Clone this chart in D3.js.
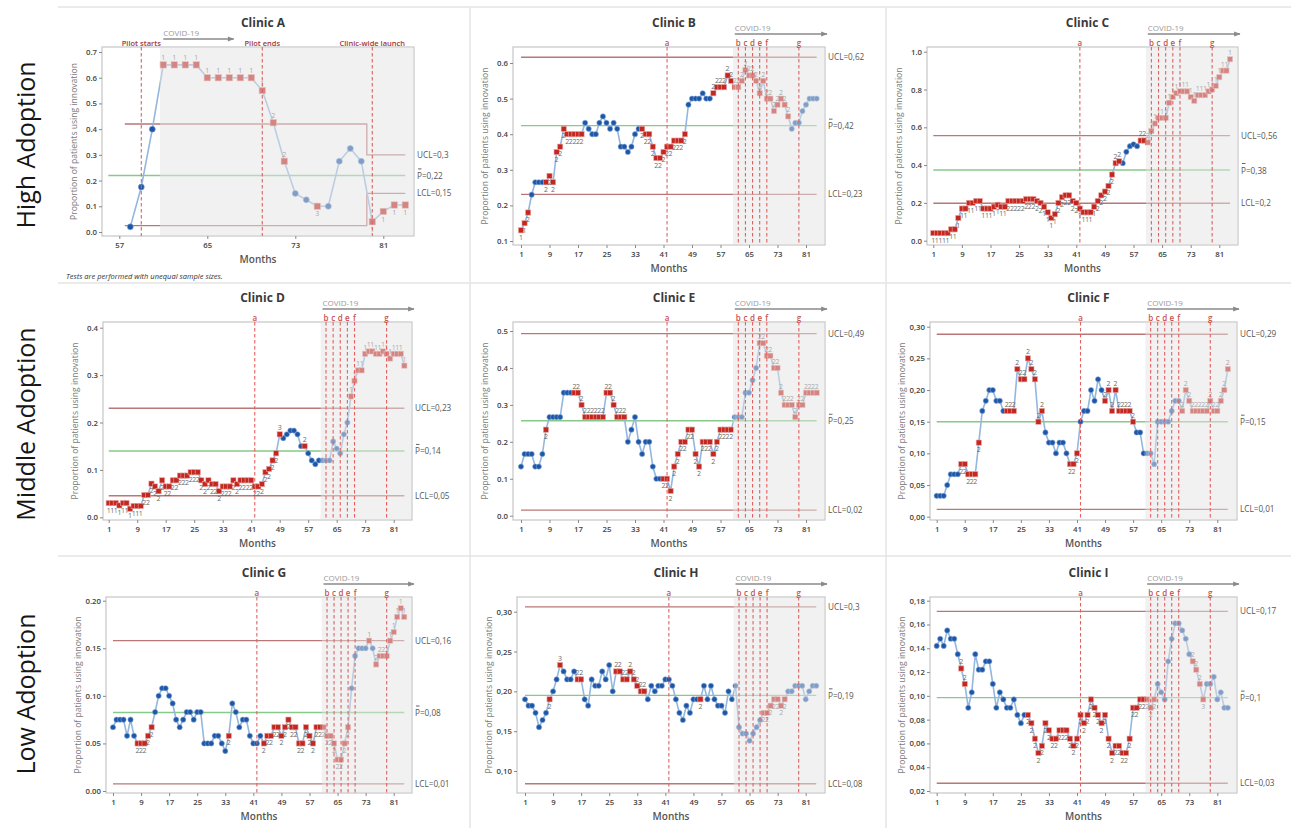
<!DOCTYPE html>
<html>
<head>
<meta charset="utf-8">
<script src="https://cdn.jsdelivr.net/npm/d3@7"></script>
<style>
  body { margin: 0; background: #fff; }
  svg { display: block; font-family: "Open Sans", "Noto Sans", sans-serif; }
</style>
</head>
<body>
<svg id="chart" width="1291" height="828"></svg>
<script>
// ---- data ----
const clinicNames = ["Clinic A", "Clinic B", "Clinic C", "Clinic D", "Clinic E", "Clinic F", "Clinic G", "Clinic H", "Clinic I"];
const rowLabels = ["High Adoption", "Middle Adoption", "Low Adoption"];

const xTicksA = [57, 65, 73, 81];
const xTicks = [1, 9, 17, 25, 33, 41, 49, 57, 65, 73, 81];
const eventMonths = [42, 62, 64, 66, 68, 70, 79];
const eventLetters = ["a", "b", "c", "d", "e", "f", "g"];
const eventMonthsA = [59, 70, 80];
const eventLabelsA = ["Pilot starts", "Pilot ends", "Clinic-wide launch"];

// Clinic A starts at month 58
const valuesA = [0.02, 0.175, 0.40, 0.65, 0.65, 0.65, 0.65, 0.60, 0.60, 0.60, 0.60, 0.60, 0.55,
  0.425, 0.275, 0.15, 0.125, 0.10, 0.10, 0.275, 0.325, 0.275, 0.04, 0.08, 0.105, 0.105];
const valuesB = [0.13, 0.15, 0.18, 0.23, 0.265, 0.265, 0.265, 0.265, 0.283, 0.265,
  0.35, 0.365, 0.415, 0.40, 0.40, 0.40, 0.40, 0.40, 0.432, 0.415,
  0.40, 0.40, 0.432, 0.45, 0.432, 0.415, 0.432, 0.415, 0.365, 0.365,
  0.35, 0.365, 0.40, 0.415, 0.415, 0.40, 0.40, 0.365, 0.333, 0.333,
  0.35, 0.365, 0.365, 0.382, 0.382, 0.382, 0.40, 0.483, 0.50, 0.50,
  0.50, 0.515, 0.50, 0.50, 0.515, 0.532, 0.532, 0.532, 0.565, 0.55,
  0.532, 0.532, 0.55, 0.58, 0.565, 0.565, 0.55, 0.515, 0.55, 0.50,
  0.50, 0.465, 0.483, 0.50, 0.483, 0.45, 0.415, 0.432, 0.432, 0.465,
  0.483, 0.50, 0.50, 0.50];
const valuesC = [0.04, 0.04, 0.04, 0.04, 0.04, 0.06, 0.06, 0.12, 0.17, 0.17,
  0.20, 0.20, 0.21, 0.21, 0.17, 0.17, 0.17, 0.18, 0.19, 0.18,
  0.18, 0.21, 0.21, 0.21, 0.21, 0.21, 0.22, 0.22, 0.22, 0.21,
  0.20, 0.18, 0.15, 0.12, 0.14, 0.20, 0.23, 0.24, 0.24, 0.21,
  0.20, 0.17, 0.15, 0.15, 0.15, 0.18, 0.21, 0.24, 0.26, 0.29,
  0.35, 0.41, 0.42, 0.41, 0.47, 0.50, 0.51, 0.50, 0.53, 0.53,
  0.52, 0.58, 0.62, 0.65, 0.65, 0.65, 0.73, 0.76, 0.78, 0.79,
  0.79, 0.79, 0.76, 0.74, 0.77, 0.77, 0.77, 0.79, 0.80, 0.82,
  0.865, 0.90, 0.90, 0.96];
const valuesD = [0.03, 0.03, 0.03, 0.025, 0.03, 0.03, 0.018, 0.024, 0.024, 0.024,
  0.047, 0.047, 0.071, 0.065, 0.055, 0.078, 0.065, 0.065, 0.078, 0.078,
  0.088, 0.088, 0.088, 0.095, 0.095, 0.095, 0.078, 0.07, 0.078, 0.07,
  0.07, 0.055, 0.065, 0.065, 0.065, 0.078, 0.07, 0.078, 0.078, 0.078,
  0.078, 0.065, 0.065, 0.07, 0.095, 0.102, 0.12, 0.135, 0.175, 0.167,
  0.175, 0.183, 0.183, 0.175, 0.15, 0.15, 0.135, 0.12, 0.112, 0.12,
  0.12, 0.12, 0.12, 0.16, 0.145, 0.135, 0.175, 0.20, 0.255, 0.288,
  0.31, 0.31, 0.345, 0.35, 0.35, 0.345, 0.345, 0.35, 0.345, 0.335,
  0.345, 0.345, 0.345, 0.32];
const valuesE = [0.133, 0.167, 0.167, 0.167, 0.133, 0.133, 0.167, 0.233, 0.267, 0.267,
  0.267, 0.267, 0.333, 0.333, 0.333, 0.333, 0.333, 0.30, 0.267, 0.267,
  0.267, 0.267, 0.267, 0.267, 0.333, 0.333, 0.30, 0.267, 0.267, 0.267,
  0.20, 0.233, 0.267, 0.20, 0.167, 0.20, 0.20, 0.133, 0.10, 0.10,
  0.10, 0.10, 0.067, 0.133, 0.167, 0.20, 0.20, 0.233, 0.233, 0.167,
  0.133, 0.20, 0.20, 0.20, 0.167, 0.20, 0.233, 0.233, 0.233, 0.233,
  0.267, 0.267, 0.267, 0.333, 0.333, 0.367, 0.40, 0.467, 0.467, 0.433,
  0.433, 0.40, 0.40, 0.333, 0.30, 0.30, 0.30, 0.267, 0.30, 0.30,
  0.333, 0.333, 0.333, 0.333];
const valuesF = [0.033, 0.033, 0.033, 0.05, 0.067, 0.067, 0.067, 0.083, 0.083, 0.067,
  0.067, 0.067, 0.117, 0.167, 0.183, 0.20, 0.20, 0.183, 0.183, 0.167,
  0.167, 0.167, 0.167, 0.233, 0.217, 0.217, 0.25, 0.233, 0.217, 0.15,
  0.167, 0.133, 0.117, 0.117, 0.10, 0.117, 0.117, 0.10, 0.083, 0.083,
  0.10, 0.15, 0.167, 0.167, 0.20, 0.183, 0.217, 0.20, 0.183, 0.20,
  0.167, 0.20, 0.167, 0.167, 0.167, 0.167, 0.15, 0.133, 0.133, 0.10,
  0.10, 0.10, 0.083, 0.15, 0.15, 0.15, 0.15, 0.167, 0.183, 0.183,
  0.167, 0.20, 0.183, 0.167, 0.167, 0.167, 0.167, 0.167, 0.183, 0.167,
  0.167, 0.183, 0.20, 0.233];
const valuesG = [0.067, 0.075, 0.075, 0.075, 0.058, 0.075, 0.058, 0.05, 0.05, 0.05,
  0.058, 0.067, 0.083, 0.10, 0.108, 0.108, 0.10, 0.092, 0.075, 0.067,
  0.075, 0.083, 0.083, 0.075, 0.083, 0.083, 0.05, 0.05, 0.05, 0.058,
  0.058, 0.05, 0.042, 0.058, 0.092, 0.083, 0.067, 0.075, 0.075, 0.058,
  0.05, 0.05, 0.058, 0.05, 0.058, 0.058, 0.067, 0.067, 0.058, 0.067,
  0.075, 0.067, 0.067, 0.05, 0.05, 0.067, 0.058, 0.05, 0.067, 0.067,
  0.067, 0.058, 0.058, 0.05, 0.033, 0.033, 0.05, 0.067, 0.108, 0.142,
  0.15, 0.15, 0.15, 0.158, 0.15, 0.133, 0.142, 0.142, 0.142, 0.158,
  0.167, 0.183, 0.192, 0.183];
const valuesH = [0.19, 0.182, 0.182, 0.173, 0.155, 0.164, 0.173, 0.19, 0.20, 0.215,
  0.233, 0.225, 0.215, 0.215, 0.225, 0.215, 0.215, 0.19, 0.182, 0.215,
  0.207, 0.207, 0.225, 0.215, 0.233, 0.20, 0.225, 0.225, 0.215, 0.215,
  0.225, 0.215, 0.207, 0.20, 0.20, 0.19, 0.207, 0.20, 0.207, 0.207,
  0.215, 0.215, 0.207, 0.19, 0.173, 0.164, 0.182, 0.173, 0.19, 0.19,
  0.19, 0.207, 0.19, 0.207, 0.19, 0.182, 0.182, 0.173, 0.20, 0.19,
  0.207, 0.155, 0.147, 0.147, 0.138, 0.147, 0.155, 0.164, 0.173, 0.173,
  0.182, 0.19, 0.19, 0.182, 0.19, 0.20, 0.20, 0.207, 0.207, 0.207,
  0.19, 0.20, 0.207, 0.207];
const valuesI = [0.142, 0.148, 0.142, 0.155, 0.148, 0.148, 0.135, 0.123, 0.11, 0.09,
  0.103, 0.135, 0.122, 0.122, 0.129, 0.129, 0.11, 0.09, 0.103, 0.097,
  0.09, 0.09, 0.097, 0.084, 0.077, 0.084, 0.084, 0.077, 0.064, 0.052,
  0.058, 0.077, 0.071, 0.064, 0.064, 0.071, 0.071, 0.071, 0.064, 0.058,
  0.064, 0.084, 0.077, 0.084, 0.097, 0.09, 0.084, 0.077, 0.084, 0.064,
  0.052, 0.058, 0.058, 0.052, 0.052, 0.064, 0.09, 0.09, 0.097, 0.097,
  0.097, 0.09, 0.097, 0.11, 0.103, 0.097, 0.129, 0.148, 0.161, 0.161,
  0.155, 0.148, 0.135, 0.129, 0.122, 0.11, 0.097, 0.11, 0.11, 0.116,
  0.097, 0.103, 0.09, 0.09];

// failed test number per point ("0" = in control)
const testsA = "00011111111112200300001111";
const testsB = "112" + "0000" + "222222" + "22222" + "0".repeat(16) + "2".repeat(13) + "0".repeat(7) + "2".repeat(22) + "0".repeat(8);
const testsC = "1".repeat(21) + "2".repeat(10) + "1".repeat(4) + "2".repeat(6) + "1".repeat(5) + "2".repeat(7) + "0".repeat(5) + "2".repeat(3) + "1".repeat(23);
const testsD = "1".repeat(10) + "2".repeat(38) + "3" + "0".repeat(6) + "2" + "0".repeat(12) + "1".repeat(16);
const testsE = "0".repeat(7) + "2" + "0".repeat(7) + "2".repeat(15) + "0".repeat(10) + "2".repeat(20) + "0".repeat(7) + "2".repeat(17);
const testsF = "0".repeat(7) + "2".repeat(6) + "0".repeat(7) + "2".repeat(11) + "0".repeat(7) + "2".repeat(3) + "0".repeat(7) + "2".repeat(9) + "0".repeat(13) + "2".repeat(14);
const testsG = "0".repeat(7) + "2".repeat(5) + "0".repeat(21) + "2" + "0".repeat(9) + "2".repeat(25) + "0".repeat(5) + "1" + "0" + "2".repeat(4) + "1".repeat(5);
const testsH = "0".repeat(7) + "2" + "00" + "3" + "0000" + "22" + "0".repeat(9) + "2".repeat(9) + "0".repeat(15) + "2" + "0".repeat(17) + "2".repeat(7) + "0".repeat(9);
const testsI = "0".repeat(7) + "22" + "0".repeat(17) + "2".repeat(37) + "0".repeat(10) + "2223" + "0".repeat(7);

// control limits
const uclValues = [null, 0.616, 0.556, 0.23, 0.493, 0.288, 0.158, 0.306, 0.171];
const centerValues = [0.22, 0.424, 0.374, 0.14, 0.257, 0.15, 0.0825, 0.195, 0.0985];
const lclValues = [null, 0.231, 0.198, 0.0455, 0.015, 0.0115, 0.0075, 0.084, 0.0265];
const uclStepsA = [0.42, 0.30];
const lclStepsA = [0.025, 0.15];
const uclLabels = ["UCL=0,3", "UCL=0,62", "UCL=0,56", "UCL=0,23", "UCL=0,49", "UCL=0,29", "UCL=0,16", "UCL=0,3", "UCL=0,17"];
const centerLabels = ["P=0,22", "P=0,42", "P=0,38", "P=0,14", "P=0,25", "P=0,15", "P=0,08", "P=0,19", "P=0,1"];
const lclLabels = ["LCL=0,15", "LCL=0,23", "LCL=0,2", "LCL=0,05", "LCL=0,02", "LCL=0,01", "LCL=0,01", "LCL=0,08", "LCL=0,03"];

const yTicksA = [0, 0.1, 0.2, 0.3, 0.4, 0.5, 0.6, 0.7];
const yTicksB = [0.1, 0.2, 0.3, 0.4, 0.5, 0.6];
const yTicksC = [0, 0.2, 0.4, 0.6, 0.8, 1.0];
const yTicksD = [0, 0.1, 0.2, 0.3, 0.4];
const yTicksE = [0, 0.1, 0.2, 0.3, 0.4, 0.5];
const yTicksF = [0, 0.05, 0.10, 0.15, 0.20, 0.25, 0.30];
const yTicksG = [0, 0.05, 0.10, 0.15, 0.20];
const yTicksH = [0.10, 0.15, 0.20, 0.25, 0.30];
const yTicksI = [0.02, 0.04, 0.06, 0.08, 0.10, 0.12, 0.14, 0.16, 0.18];

// ---- layout (pixel boxes of each panel) ----
const panels = [
  { values: valuesA, tests: testsA, start: 58, yTicks: yTicksA, digits: 1, comma: false, frame: [102, 47, 414, 236], xr: [58, 130.3, 83, 405.3], yr: [0, 232, 0.7, 52] },
  { values: valuesB, tests: testsB, start: 1, yTicks: yTicksB, digits: 1, comma: false, frame: [513, 47, 825, 245], xr: [1, 521, 81, 806], yr: [0.1, 241, 0.6, 63] },
  { values: valuesC, tests: testsC, start: 1, yTicks: yTicksC, digits: 1, comma: false, frame: [927, 47, 1238, 245], xr: [1, 933.3, 81, 1219.3], yr: [0, 240.7, 1.0, 51.7] },
  { values: valuesD, tests: testsD, start: 1, yTicks: yTicksD, digits: 1, comma: false, frame: [103, 322, 412, 520], xr: [1, 108.7, 81, 393.7], yr: [0, 517.3, 0.4, 327.7] },
  { values: valuesE, tests: testsE, start: 1, yTicks: yTicksE, digits: 1, comma: false, frame: [513, 322, 825, 520], xr: [1, 521, 81, 806], yr: [0, 515.7, 0.5, 331] },
  { values: valuesF, tests: testsF, start: 1, yTicks: yTicksF, digits: 2, comma: true, frame: [930, 322, 1237, 520], xr: [1, 936.7, 81, 1217.3], yr: [0, 516.7, 0.3, 326.7] },
  { values: valuesG, tests: testsG, start: 1, yTicks: yTicksG, digits: 2, comma: false, frame: [106, 597, 412, 793], xr: [1, 113, 81, 393.7], yr: [0, 791, 0.2, 600.7] },
  { values: valuesH, tests: testsH, start: 1, yTicks: yTicksH, digits: 2, comma: true, frame: [517, 597, 825, 793], xr: [1, 525, 81, 805.7], yr: [0.1, 771, 0.3, 611.7] },
  { values: valuesI, tests: testsI, start: 1, yTicks: yTicksI, digits: 2, comma: true, frame: [930, 597, 1237, 793], xr: [1, 936.7, 81, 1217.3], yr: [0.02, 791, 0.18, 600.7] }
];

const svg = d3.select("#chart");
svg.append("rect").attr("width", 1291).attr("height", 828).attr("fill", "#fff");

// panel separators
[7, 283, 556].forEach(yy => svg.append("line").attr("x1", 58).attr("x2", 1291).attr("y1", yy).attr("y2", yy).attr("stroke", "#e4e4e4").attr("stroke-width", 1.5));
[470, 886].forEach(xx => svg.append("line").attr("x1", xx).attr("x2", xx).attr("y1", 7).attr("y2", 828).attr("stroke", "#e4e4e4").attr("stroke-width", 1.5));

// row labels
[145, 424, 694].forEach((cy, i) => {
  svg.append("text").attr("transform", `translate(35,${cy}) rotate(-90)`)
    .attr("text-anchor", "middle").attr("font-size", 25).attr("fill", "#161616")
    .text(rowLabels[i]);
});

svg.append("text").attr("x", 66).attr("y", 279).attr("font-size", 7.5).attr("font-style", "italic")
  .attr("fill", "#333").text("Tests are performed with unequal sample sizes.");

svg.append("defs").append("marker").attr("id", "arrow").attr("viewBox", "0 0 10 10")
  .attr("refX", 9).attr("refY", 5).attr("markerWidth", 7).attr("markerHeight", 5).attr("orient", "auto")
  .append("path").attr("d", "M0,1 L10,5 L0,9 Z").attr("fill", "#8a8a8a");

panels.forEach((p, idx) => {
  const [fl, ft, fr, fb] = p.frame;
  const isA = idx === 0;
  const x = d3.scaleLinear().domain([p.xr[0], p.xr[2]]).range([p.xr[1], p.xr[3]]);
  const y = d3.scaleLinear().domain([p.yr[0], p.yr[2]]).range([p.yr[1], p.yr[3]]);
  const fmt = d => { const s = d3.format("." + p.digits + "f")(d); return p.comma ? s.replace(".", ",") : s; };
  const g = svg.append("g");
  const rSize = isA ? 3 : 2.6, sqSize = isA ? 6.4 : 5.2;

  g.append("rect").attr("x", fl).attr("y", ft).attr("width", fr - fl).attr("height", fb - ft)
    .attr("fill", "#fff").attr("stroke", "#c6c6c6").attr("stroke-width", 1.2);

  // title
  g.append("text").attr("x", (fl + fr) / 2 + 5).attr("y", ft - 20).attr("text-anchor", "middle")
    .attr("font-size", 12).attr("font-weight", 700).attr("fill", "#3a3a3a").text(clinicNames[idx]);

  // axes
  const yAxis = g.append("g").attr("transform", `translate(${fl},0)`)
    .call(d3.axisLeft(y).tickValues(p.yTicks).tickSize(3).tickPadding(2).tickFormat(fmt));
  const xAxis = g.append("g").attr("transform", `translate(0,${fb})`)
    .call(d3.axisBottom(x).tickValues(isA ? xTicksA : xTicks).tickSize(3).tickPadding(3));
  [yAxis, xAxis].forEach(a => {
    a.select(".domain").remove();
    a.selectAll(".tick line").attr("stroke", "#888");
    a.selectAll(".tick text").attr("font-size", 7.8).attr("font-weight", 600).attr("fill", "#444")
      .attr("font-family", "'Open Sans','Noto Sans',sans-serif");
  });

  g.append("text").attr("transform", `translate(${fl - 25},${(ft + fb) / 2}) rotate(-90)`)
    .attr("text-anchor", "middle").attr("font-size", 8.6).attr("fill", "#7a7a7a")
    .text("Proportion of patients using innovation");
  g.append("text").attr("x", (fl + fr) / 2).attr("y", fb + 26.5).attr("text-anchor", "middle")
    .attr("font-size", 10).attr("font-weight", 600).attr("fill", "#555").text("Months");

  // control limits
  const last = p.start + p.values.length - 1;
  const limColor = "#b97777";
  const line = d3.line().x(d => x(d[0])).y(d => y(d[1]));
  if (isA) {
    const step = d3.line().x(d => x(d[0])).y(d => y(d[1])).curve(d3.curveStepAfter);
    g.append("path").attr("d", step([[57.5, uclStepsA[0]], [79.5, uclStepsA[1]], [last, uclStepsA[1]]]))
      .attr("fill", "none").attr("stroke", limColor).attr("stroke-width", 1.3);
    g.append("path").attr("d", step([[57.5, lclStepsA[0]], [79.5, lclStepsA[1]], [last, lclStepsA[1]]]))
      .attr("fill", "none").attr("stroke", limColor).attr("stroke-width", 1.3);
    g.append("path").attr("d", line([[56, centerValues[0]], [last, centerValues[0]]]))
      .attr("fill", "none").attr("stroke", "#86c98a").attr("stroke-width", 1.4);
  } else {
    [uclValues[idx], lclValues[idx]].forEach(v => g.append("path").attr("d", line([[p.start, v], [last, v]]))
      .attr("fill", "none").attr("stroke", limColor).attr("stroke-width", 1.4));
    g.append("path").attr("d", line([[p.start, centerValues[idx]], [last, centerValues[idx]]]))
      .attr("fill", "none").attr("stroke", "#86c98a").attr("stroke-width", 1.4);
  }
  const uclY = isA ? uclStepsA[1] : uclValues[idx];
  const lclY = isA ? lclStepsA[1] : lclValues[idx];
  const lab = g.append("g").attr("font-size", 8.2).attr("fill", "#555");
  lab.append("text").attr("x", fr + 3).attr("y", y(uclY) + 3).text(uclLabels[idx]);
  lab.append("text").attr("x", fr + 3).attr("y", y(lclY) + 3).text(lclLabels[idx]);
  lab.append("text").attr("x", fr + 3).attr("y", y(centerValues[idx]) + 3.5).text(centerLabels[idx]);
  lab.append("line").attr("x1", fr + 4).attr("x2", fr + 7.5).attr("y1", y(centerValues[idx]) - 6.5).attr("y2", y(centerValues[idx]) - 6.5)
    .attr("stroke", "#555").attr("stroke-width", 0.9);

  // series
  const pts = p.values.map((v, i) => ({ m: p.start + i, v: v, t: p.tests[i] }));
  g.append("path").attr("d", d3.line().x(d => x(d.m)).y(d => y(d.v))(pts))
    .attr("fill", "none").attr("stroke", "#93b7de").attr("stroke-width", 1.6);
  g.selectAll("circle.pt").data(pts.filter(d => d.t === "0")).enter().append("circle")
    .attr("cx", d => x(d.m)).attr("cy", d => y(d.v)).attr("r", rSize)
    .attr("fill", "#1f55a6").attr("stroke", "#7ea8d8").attr("stroke-width", 0.6);
  g.selectAll("rect.pt").data(pts.filter(d => d.t !== "0")).enter().append("rect")
    .attr("x", d => x(d.m) - sqSize / 2).attr("y", d => y(d.v) - sqSize / 2)
    .attr("width", sqSize).attr("height", sqSize)
    .attr("fill", "#c42620").attr("stroke", "#e8a7a3").attr("stroke-width", 0.6);
  g.selectAll("text.tl").data(pts.filter(d => d.t !== "0")).enter().append("text")
    .attr("x", d => x(d.m)).attr("y", d => d.v >= centerValues[idx] ? y(d.v) - sqSize / 2 - 1.5 : y(d.v) + sqSize / 2 + 7)
    .attr("text-anchor", "middle").attr("font-size", 7).attr("fill", "#6a6a6a").text(d => d.t);

  // COVID period shading (semi-transparent, fades the marks below it)
  const shadeStart = isA ? 60.7 : 60.5;
  g.append("rect").attr("x", x(shadeStart)).attr("y", ft + 0.6).attr("width", fr - 0.6 - x(shadeStart)).attr("height", fb - ft - 1.2)
    .attr("fill", "#e4e4e4").attr("opacity", 0.5);

  // event lines
  const evM = isA ? eventMonthsA : eventMonths;
  const evL = isA ? eventLabelsA : eventLetters;
  evM.forEach((m, i) => {
    g.append("line").attr("x1", x(m)).attr("x2", x(m)).attr("y1", ft).attr("y2", fb)
      .attr("stroke", "#df6262").attr("stroke-width", 1.1).attr("stroke-dasharray", "3.5,2.5");
    g.append("text").attr("x", x(m)).attr("y", ft - 1.5).attr("text-anchor", "middle")
      .attr("font-size", isA ? 7.5 : 8).attr("font-weight", 600).attr("fill", isA ? "#a3373c" : "#c9514e").text(evL[i]);
  });

  // COVID-19 arrow
  const ax0 = x(61);
  const ax1 = isA ? x(67.4) : fr + 2;
  const ay = isA ? ft - 8 : ft - 13;
  g.append("line").attr("x1", ax0).attr("x2", ax1).attr("y1", ay).attr("y2", ay)
    .attr("stroke", "#8a8a8a").attr("stroke-width", 1.3).attr("marker-end", "url(#arrow)");
  g.append("text").attr("x", ax0).attr("y", ay - 3).attr("font-size", 8).attr("fill", "#9a9a9a").text("COVID-19");
});
</script>
</body>
</html>
